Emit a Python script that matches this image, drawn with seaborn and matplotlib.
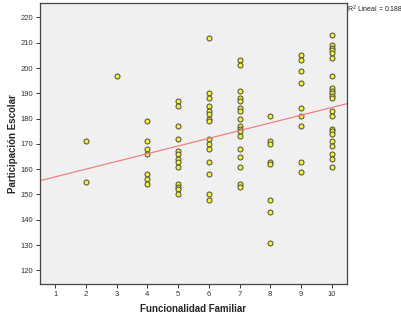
import pandas as pd
import matplotlib
matplotlib.use('Agg')
import matplotlib.pyplot as plt
import seaborn as sns

# Participacion Escolar values read for each Funcionalidad Familiar level
col2 = [171, 155]
col3 = [197]
col4 = [179, 171, 168, 166, 158, 156, 154]
col5 = [187, 185, 177, 172, 167, 166, 164, 163, 161, 154, 153, 152, 150]
col6 = [212, 190, 188, 185, 183, 182, 180, 179, 172, 170, 168, 163, 158, 150, 148]
col7 = [203, 201, 191, 188, 187, 184, 183, 180, 177, 176, 175, 173, 168, 165, 161, 154, 153]
col8 = [181, 171, 170, 163, 162, 148, 143, 131]
col9 = [205, 203, 199, 194, 184, 181, 177, 163, 159]
col10 = [213, 209, 208, 207, 206, 204, 197, 192, 191, 190, 189, 188, 183, 181,
         176, 175, 174, 171, 169, 166, 164, 161]

levels = {2: col2, 3: col3, 4: col4, 5: col5, 6: col6, 7: col7, 8: col8, 9: col9, 10: col10}
x_ticks = list(range(1, 11))
y_ticks = list(range(120, 221, 10))
r2_label = 'R$^2$ Lineal = 0.188'

rows = []
for k, vals in levels.items():
    for v in vals:
        rows.append((k, v))
df = pd.DataFrame(rows, columns=['Funcionalidad Familiar', 'Participación Escolar'])

sns.set_style('ticks')
plt.rcParams['font.family'] = ['Liberation Sans', 'DejaVu Sans']

fig = plt.figure(figsize=(4.02, 3.22), dpi=100)
ax = fig.add_axes([40/402, 38/322, 307/402, 281/322])
ax.set_facecolor('#F0F0F0')
ax.set_xlim(0.5, 10.5)
ax.set_ylim(114.6, 225.7)

sns.regplot(data=df, x='Funcionalidad Familiar', y='Participación Escolar', ax=ax,
            ci=None, truncate=False,
            scatter_kws=dict(s=13, color='#F2F23C', edgecolors='#4a4a3a', linewidths=0.7, alpha=1),
            line_kws=dict(color='#F08080', lw=0.9))

ax.set_xlim(0.5, 10.5)
ax.set_ylim(114.6, 225.7)
ax.set_xticks(x_ticks)
ax.set_yticks(y_ticks)
ax.tick_params(labelsize=5.5, colors='#333333', length=3, width=0.7, pad=2)
for s in ax.spines.values():
    s.set_color('#444444')
    s.set_linewidth(0.9)
ax.set_xlabel('Funcionalidad Familiar', fontsize=7, fontweight='bold', labelpad=4.5)
ax.set_ylabel('Participación Escolar', fontsize=7, fontweight='bold', labelpad=1.5)
fig.text(347/402, 1 - 9/322, r2_label, fontsize=5, ha='left', va='center', color='#222222')

fig.savefig('out.png', dpi=100, facecolor='white')
